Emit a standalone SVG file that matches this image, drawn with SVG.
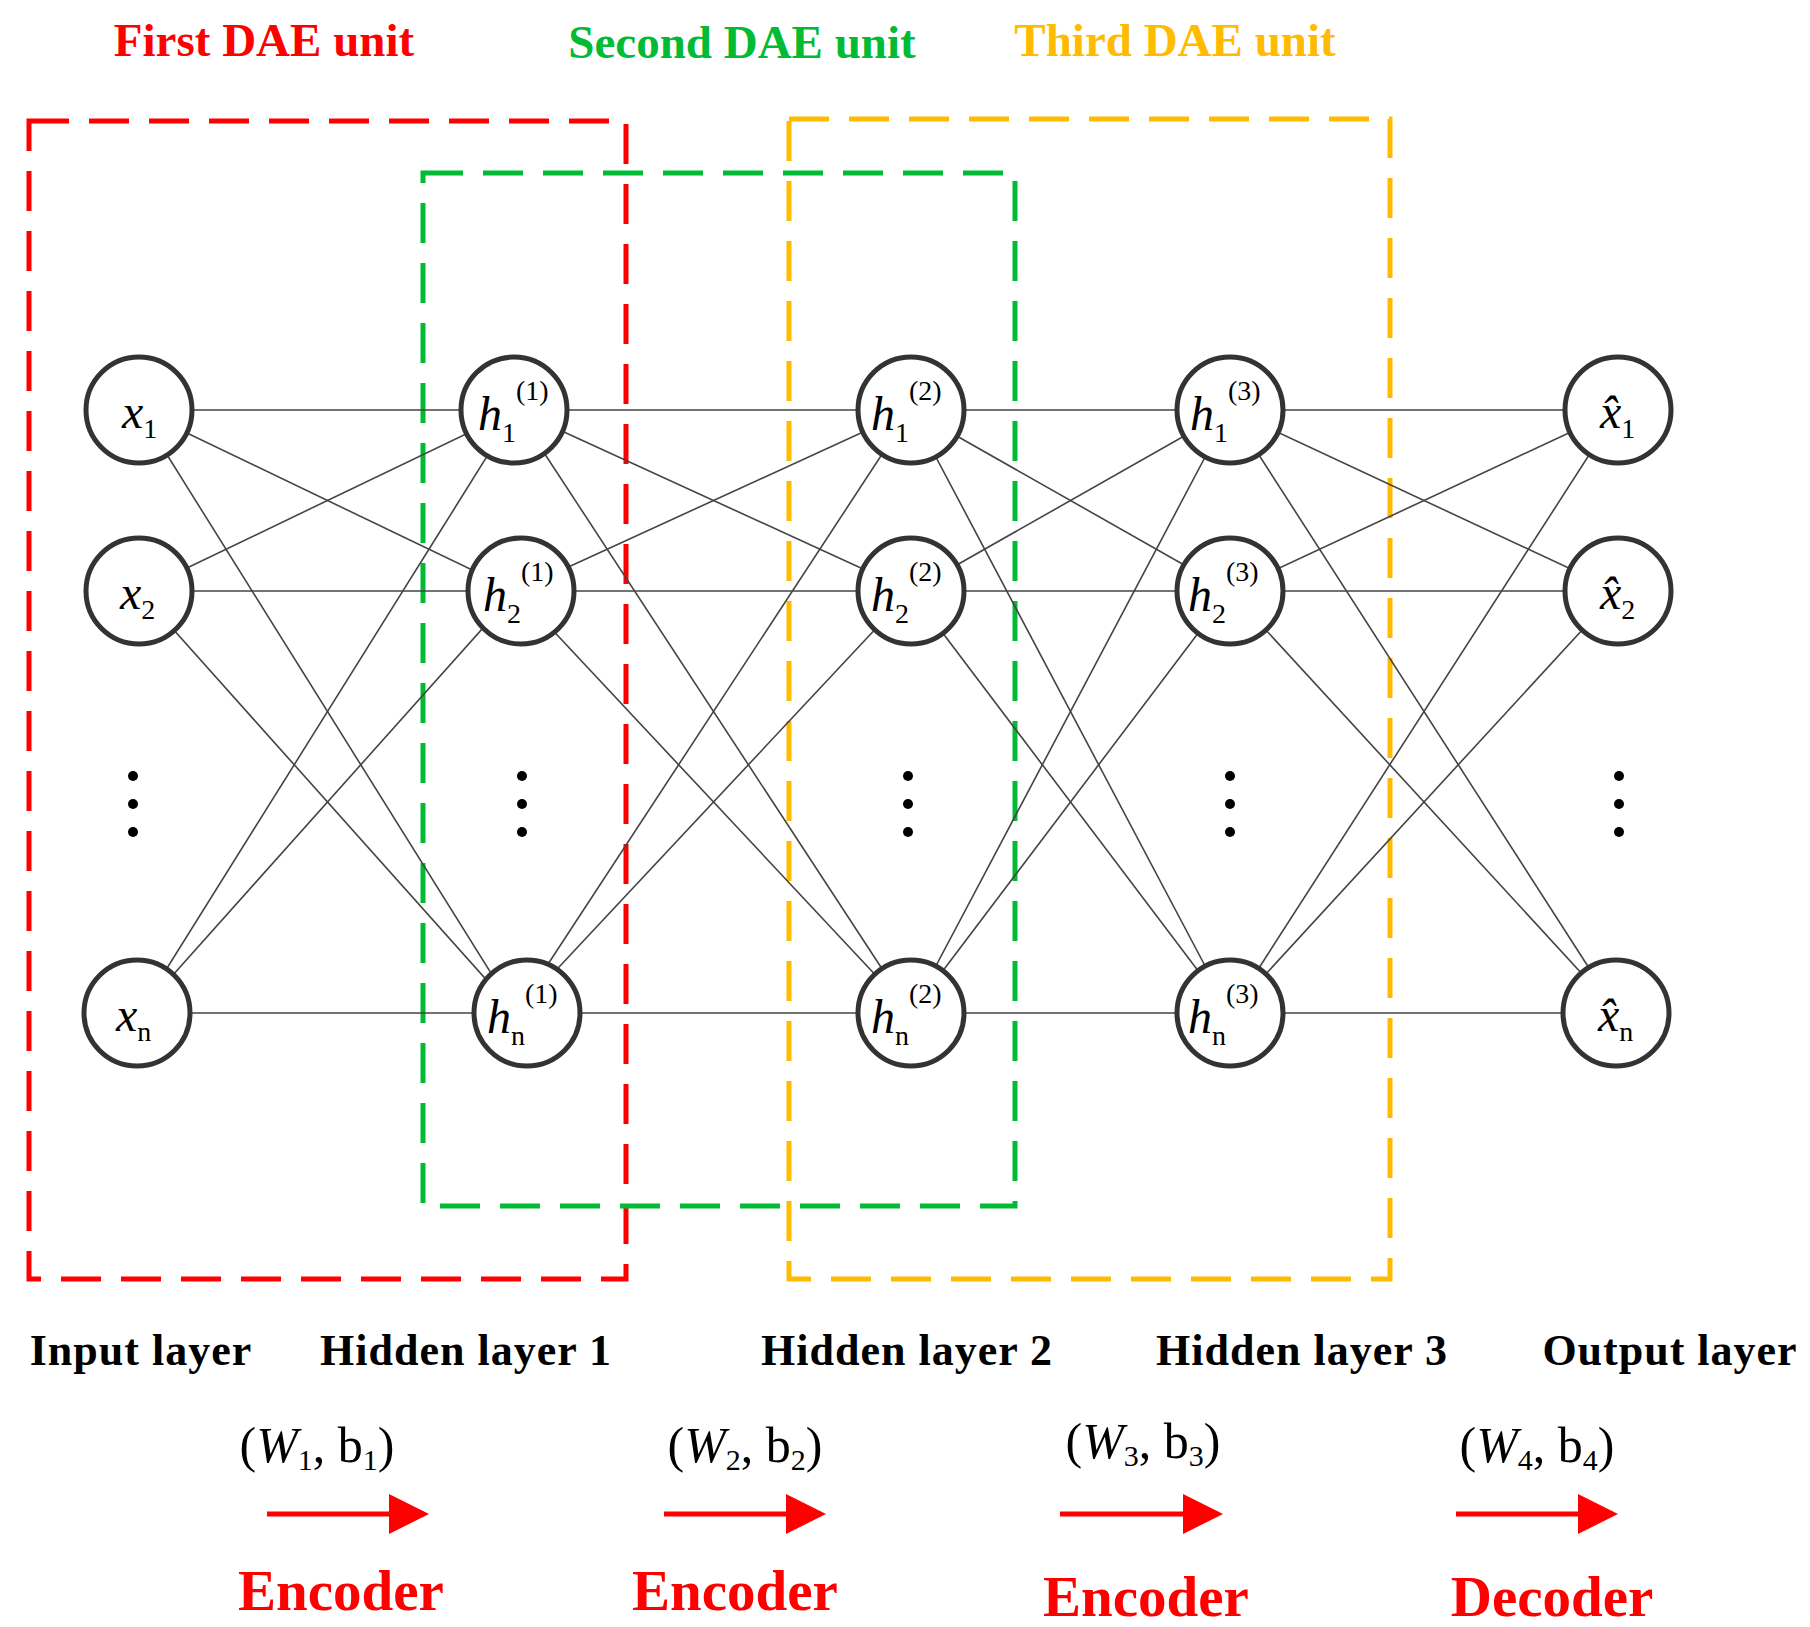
<svg xmlns="http://www.w3.org/2000/svg" width="1810" height="1627" viewBox="0 0 1810 1627">
<style>
.n{fill:#fff;stroke:#333;stroke-width:5}
.e{stroke:#444;stroke-width:1.6}
.v{font-family:"Liberation Serif",serif;font-style:italic;font-size:48px;fill:#000}
.s{font-size:28px;font-style:normal}
.t{font-family:"Liberation Serif",serif;font-weight:bold;font-size:47px;text-anchor:middle}
.l{font-family:"Liberation Serif",serif;font-weight:bold;font-size:44px;letter-spacing:1px;text-anchor:middle;fill:#000}
.w{font-family:"Liberation Serif",serif;font-size:50px;text-anchor:middle;fill:#000}
.c{font-family:"Liberation Serif",serif;font-weight:bold;font-size:57px;text-anchor:middle;fill:#f00}
.box{fill:none;stroke-width:5;stroke-dasharray:40 20}
.d{fill:#000}
</style>
<defs><marker id="a" markerWidth="8" markerHeight="8" refX="7" refY="4" orient="auto" markerUnits="strokeWidth"><path d="M0,0L8,4L0,8z" fill="#f00"/></marker></defs>
<g id="boxes">
<rect class="box" x="29" y="121" width="597" height="1158" stroke="#f00"/>
<rect class="box" x="423" y="173" width="592" height="1033" stroke="#0b3"/>
<rect class="box" x="789" y="119" width="601" height="1160" stroke="#fb0"/>
</g>
<g id="connectors">
<g class="e">
<line x1="139" y1="410" x2="516" y2="410"/><line x1="139" y1="410" x2="516" y2="591"/><line x1="139" y1="410" x2="516" y2="1013"/>
<line x1="139" y1="591" x2="516" y2="410"/><line x1="139" y1="591" x2="516" y2="591"/><line x1="139" y1="591" x2="516" y2="1013"/>
<line x1="139" y1="1013" x2="516" y2="410"/><line x1="139" y1="1013" x2="516" y2="591"/><line x1="139" y1="1013" x2="516" y2="1013"/>
<line x1="516" y1="410" x2="911" y2="410"/><line x1="516" y1="410" x2="911" y2="591"/><line x1="516" y1="410" x2="911" y2="1013"/>
<line x1="516" y1="591" x2="911" y2="410"/><line x1="516" y1="591" x2="911" y2="591"/><line x1="516" y1="591" x2="911" y2="1013"/>
<line x1="516" y1="1013" x2="911" y2="410"/><line x1="516" y1="1013" x2="911" y2="591"/><line x1="516" y1="1013" x2="911" y2="1013"/>
<line x1="911" y1="410" x2="1230" y2="410"/><line x1="911" y1="410" x2="1230" y2="591"/><line x1="911" y1="410" x2="1230" y2="1013"/>
<line x1="911" y1="591" x2="1230" y2="410"/><line x1="911" y1="591" x2="1230" y2="591"/><line x1="911" y1="591" x2="1230" y2="1013"/>
<line x1="911" y1="1013" x2="1230" y2="410"/><line x1="911" y1="1013" x2="1230" y2="591"/><line x1="911" y1="1013" x2="1230" y2="1013"/>
<line x1="1230" y1="410" x2="1618" y2="410"/><line x1="1230" y1="410" x2="1618" y2="591"/><line x1="1230" y1="410" x2="1618" y2="1013"/>
<line x1="1230" y1="591" x2="1618" y2="410"/><line x1="1230" y1="591" x2="1618" y2="591"/><line x1="1230" y1="591" x2="1618" y2="1013"/>
<line x1="1230" y1="1013" x2="1618" y2="410"/><line x1="1230" y1="1013" x2="1618" y2="591"/><line x1="1230" y1="1013" x2="1618" y2="1013"/>
</g>
<g stroke="#f00" stroke-width="5" marker-end="url(#a)">
<line x1="267" y1="1514" x2="424" y2="1514"/><line x1="664" y1="1514" x2="821" y2="1514"/>
<line x1="1060" y1="1514" x2="1218" y2="1514"/><line x1="1456" y1="1514" x2="1613" y2="1514"/>
</g>
</g>
<g id="x1"><circle class="n" cx="139" cy="410" r="53"/><text class="v" x="122" y="428">x<tspan class="s" dy="10">1</tspan></text></g>
<g id="x2"><circle class="n" cx="139" cy="591" r="53"/><text class="v" x="120" y="609">x<tspan class="s" dy="10">2</tspan></text></g>
<g id="xn"><circle class="n" cx="137" cy="1013" r="53"/><text class="v" x="116" y="1031">x<tspan class="s" dy="10">n</tspan></text></g>
<g id="h11"><circle class="n" cx="514" cy="410" r="53"/><text class="v" x="478" y="430">h<tspan class="s" dy="12">1</tspan><tspan class="s" dy="-42">(1)</tspan></text></g>
<g id="h21"><circle class="n" cx="521" cy="591" r="53"/><text class="v" x="483" y="611">h<tspan class="s" dy="12">2</tspan><tspan class="s" dy="-42">(1)</tspan></text></g>
<g id="hn1"><circle class="n" cx="527" cy="1013" r="53"/><text class="v" x="487" y="1033">h<tspan class="s" dy="12">n</tspan><tspan class="s" dy="-42">(1)</tspan></text></g>
<g id="h12"><circle class="n" cx="911" cy="410" r="53"/><text class="v" x="871" y="430">h<tspan class="s" dy="12">1</tspan><tspan class="s" dy="-42">(2)</tspan></text></g>
<g id="h22"><circle class="n" cx="911" cy="591" r="53"/><text class="v" x="871" y="611">h<tspan class="s" dy="12">2</tspan><tspan class="s" dy="-42">(2)</tspan></text></g>
<g id="hn2"><circle class="n" cx="911" cy="1013" r="53"/><text class="v" x="871" y="1033">h<tspan class="s" dy="12">n</tspan><tspan class="s" dy="-42">(2)</tspan></text></g>
<g id="h13"><circle class="n" cx="1230" cy="410" r="53"/><text class="v" x="1190" y="430">h<tspan class="s" dy="12">1</tspan><tspan class="s" dy="-42">(3)</tspan></text></g>
<g id="h23"><circle class="n" cx="1230" cy="591" r="53"/><text class="v" x="1188" y="611">h<tspan class="s" dy="12">2</tspan><tspan class="s" dy="-42">(3)</tspan></text></g>
<g id="hn3"><circle class="n" cx="1230" cy="1013" r="53"/><text class="v" x="1188" y="1033">h<tspan class="s" dy="12">n</tspan><tspan class="s" dy="-42">(3)</tspan></text></g>
<g id="o1"><circle class="n" cx="1618" cy="410" r="53"/><text class="v" x="1600" y="428">x̂<tspan class="s" dy="10">1</tspan></text></g>
<g id="o2"><circle class="n" cx="1618" cy="591" r="53"/><text class="v" x="1600" y="609">x̂<tspan class="s" dy="10">2</tspan></text></g>
<g id="on"><circle class="n" cx="1616" cy="1013" r="53"/><text class="v" x="1598" y="1031">x̂<tspan class="s" dy="10">n</tspan></text></g>
<g id="dots">
<circle class="d" cx="133" cy="776" r="5"/><circle class="d" cx="133" cy="804" r="5"/><circle class="d" cx="133" cy="832" r="5"/>
<circle class="d" cx="522" cy="776" r="5"/><circle class="d" cx="522" cy="804" r="5"/><circle class="d" cx="522" cy="832" r="5"/>
<circle class="d" cx="908" cy="776" r="5"/><circle class="d" cx="908" cy="804" r="5"/><circle class="d" cx="908" cy="832" r="5"/>
<circle class="d" cx="1230" cy="776" r="5"/><circle class="d" cx="1230" cy="804" r="5"/><circle class="d" cx="1230" cy="832" r="5"/>
<circle class="d" cx="1619" cy="776" r="5"/><circle class="d" cx="1619" cy="804" r="5"/><circle class="d" cx="1619" cy="832" r="5"/>
</g>
<g id="titles">
<text class="t" x="264" y="56" fill="#f00">First DAE unit</text>
<text class="t" x="742" y="58" fill="#0b3">Second DAE unit</text>
<text class="t" x="1175" y="56" fill="#fb0">Third DAE unit</text>
</g>
<g id="layers">
<text class="l" x="141" y="1365">Input layer</text>
<text class="l" x="466" y="1365">Hidden layer 1</text>
<text class="l" x="907" y="1365">Hidden layer 2</text>
<text class="l" x="1302" y="1365">Hidden layer 3</text>
<text class="l" x="1670" y="1365">Output layer</text>
</g>
<g id="params">
<text class="w" x="317" y="1462">(<tspan font-style="italic">W</tspan><tspan font-size="30" dy="8">1</tspan><tspan dy="-8">, b</tspan><tspan font-size="30" dy="8">1</tspan><tspan dy="-8">)</tspan></text>
<text class="w" x="745" y="1462">(<tspan font-style="italic">W</tspan><tspan font-size="30" dy="8">2</tspan><tspan dy="-8">, b</tspan><tspan font-size="30" dy="8">2</tspan><tspan dy="-8">)</tspan></text>
<text class="w" x="1143" y="1458">(<tspan font-style="italic">W</tspan><tspan font-size="30" dy="8">3</tspan><tspan dy="-8">, b</tspan><tspan font-size="30" dy="8">3</tspan><tspan dy="-8">)</tspan></text>
<text class="w" x="1537" y="1462">(<tspan font-style="italic">W</tspan><tspan font-size="30" dy="8">4</tspan><tspan dy="-8">, b</tspan><tspan font-size="30" dy="8">4</tspan><tspan dy="-8">)</tspan></text>
</g>
<g id="roles">
<text class="c" x="341" y="1610">Encoder</text>
<text class="c" x="735" y="1610">Encoder</text>
<text class="c" x="1146" y="1616">Encoder</text>
<text class="c" x="1552" y="1616">Decoder</text>
</g>
</svg>
